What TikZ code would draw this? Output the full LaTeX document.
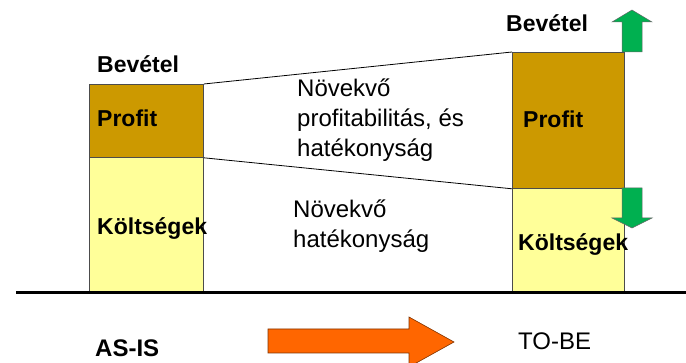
\documentclass[tikz,border=0pt]{standalone}
\usepackage{fontspec}
\setmainfont{Liberation Sans}
\usepackage{xcolor}
\usepackage{tikz}
\usetikzlibrary{positioning,calc}
\definecolor{profitbrown}{HTML}{CC9900}
\definecolor{costyellow}{HTML}{FFFF99}
\definecolor{upgreen}{HTML}{00B050}
\definecolor{goorange}{HTML}{FF6600}

\begin{document}
\begin{tikzpicture}[x=1pt, y=-1pt,
    profitbox/.style={draw=black!70, line width=0.8pt, fill=profitbrown, anchor=north west, inner sep=0pt},
    costbox/.style={draw=black!70, line width=0.8pt, fill=costyellow, anchor=north west, inner sep=0pt},
    lbl/.style={anchor=base west, inner sep=0pt, font=\fontsize{23}{28}\selectfont\bfseries},
    txt/.style={anchor=base west, inner sep=0pt, align=left, font=\fontsize{24}{30}\selectfont}]
    \clip (0,0) rectangle (686,363);
    \useasboundingbox (0,0) rectangle (686,363);

    % AS-IS column
    \node[costbox, minimum width=114pt, minimum height=134pt] (costL) at (89,157) {};
    \node[profitbox, minimum width=114pt, minimum height=73pt] (profL) at (89,84) {};
    \node[lbl] (bevL) at (97,73) {Bevétel};
    \node[lbl] (profLtxt) at (97,127) {Profit};
    \node[lbl] (costLtxt) at (97,235) {Költségek};

    % TO-BE column
    \node[costbox, minimum width=112pt, minimum height=103pt] (costR) at (512,188) {};
    \node[profitbox, minimum width=112pt, minimum height=136pt] (profR) at (512,52) {};
    \node[lbl] (bevR) at (506,32) {Bevétel};
    \node[lbl] (profRtxt) at (523,128) {Profit};
    \node[lbl] (costRtxt) at (518,251) {Költségek};

    % Connecting lines
    \draw[line width=0.8pt] (profL.north east) -- (profR.north west);
    \draw[line width=0.8pt] (profL.south east) -- (profR.south west);

    % Middle texts (base = last line)
    \node[txt] (gainA) at (297,157) {Növekvő\\profitabilitás, és\\hatékonyság};
    \node[txt] (gainB) at (293,248) {Növekvő\\hatékonyság};

    % Green arrows
    \draw[fill=upgreen, draw=black!60, line width=0.5pt]
        (622,52) -- (622,22) -- (612,22) -- (632,10) -- (652,22) -- (642,22) -- (642,52) -- cycle;
    \draw[fill=upgreen, draw=black!60, line width=0.5pt]
        (622,188) -- (622,218) -- (612,218) -- (632,228) -- (652,218) -- (642,218) -- (642,188) -- cycle;

    % Ground line
    \draw[line width=3pt] (16,293) -- (686,293);

    % Bottom labels and arrow
    \node[lbl, font=\fontsize{24}{28}\selectfont\bfseries] (asis) at (95,357) {AS-IS};
    \node[lbl, font=\fontsize{24}{28}\selectfont] (tobe) at (518,350) {TO-BE};
    \draw[fill=goorange, draw=black!50!goorange, line width=0.6pt]
        (268,329) -- (409,329) -- (409,317) -- (454,342) -- (409,367) -- (409,353) -- (268,353) -- cycle;
\end{tikzpicture}
\end{document}
